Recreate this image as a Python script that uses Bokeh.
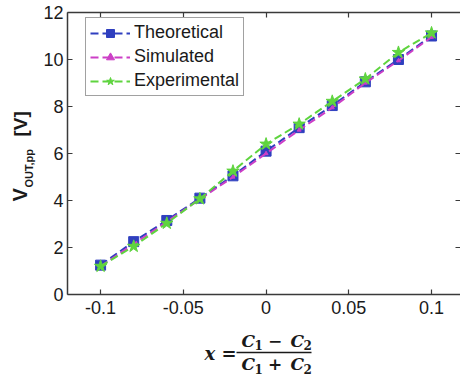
from bokeh.plotting import figure
from bokeh.models import Range1d, LinearAxis, FixedTicker, Label, Arrow, Legend, LegendItem
from bokeh.embed import file_html
from bokeh.resources import INLINE
import math

# ---- data ----
x_vals = [-0.1, -0.08, -0.06, -0.04, -0.02, 0.0, 0.02, 0.04, 0.06, 0.08, 0.1]
theoretical = [1.25, 2.25, 3.15, 4.1, 5.05, 6.1, 7.1, 8.04, 9.05, 10.0, 11.0]
simulated = [1.2, 2.15, 3.1, 4.05, 5.0, 6.0, 7.0, 7.95, 9.0, 9.95, 10.95]
experimental = [1.2, 2.05, 3.03, 4.07, 5.25, 6.4, 7.25, 8.22, 9.17, 10.3, 11.13]
x_ticks = [-0.1, -0.05, 0, 0.05, 0.1]
x_tick_labels = {-0.1: "-0.1", -0.05: "-0.05", 0: "0", 0.05: "0.05", 0.1: "0.1"}
y_ticks = [0, 2, 4, 6, 8, 10, 12]

# axes box limits (data)
X0, X1 = -0.12, 0.1175
Y0, Y1 = 0, 12

# axes box position on the canvas (pixels)
FL, FR, FT, FB = 67, 460, 12, 294
W, H = 460, 377

def dx(px):
    return X0 + (px - FL) * (X1 - X0) / (FR - FL)

def dy(py):
    return Y0 + (FB - py) * (Y1 - Y0) / (FB - FT)

p = figure(width=W, height=H, output_backend="svg", toolbar_location=None,
           x_range=Range1d(dx(0), dx(W)), y_range=Range1d(dy(H), dy(0)),
           min_border=0, x_axis_location=None, y_axis_location=None)
p.outline_line_color = None
p.grid.visible = False
p.background_fill_color = "white"
p.border_fill_color = "white"

axis_color = "#3a3a3a"
label_color = "#1a1a1a"
font = "Liberation Sans"

def make_axis(ticks, loc, bounds, overrides):
    ax = LinearAxis(ticker=FixedTicker(ticks=ticks), fixed_location=loc, bounds=bounds)
    ax.axis_line_color = axis_color
    ax.axis_line_width = 1.5
    ax.major_tick_line_color = axis_color
    ax.major_tick_line_width = 1.2
    ax.major_tick_in = 5
    ax.major_tick_out = 0
    ax.minor_tick_line_color = None
    ax.major_label_text_font = font
    ax.major_label_text_font_size = "18px"
    ax.major_label_text_color = label_color
    ax.major_label_overrides = overrides
    return ax

xb = make_axis(x_ticks, Y0, (X0, X1), x_tick_labels)
xb.major_label_standoff = 6
p.add_layout(xb, "below")
yl = make_axis(y_ticks, X0, (Y0, Y1), {t: str(t) for t in y_ticks})
yl.major_label_standoff = 4
p.add_layout(yl, "left")
xt = make_axis(x_ticks, Y1, (X0, X1), {t: "" for t in x_ticks})
xt.major_tick_in = 0
xt.major_tick_out = 5
p.add_layout(xt, "below")
yr = make_axis(y_ticks, X1, (Y0, Y1), {t: "" for t in y_ticks})
yr.axis_line_color = None
yr.major_tick_in = 0
yr.major_tick_out = 5
p.add_layout(yr, "left")

blue = "#2f3fbf"
magenta = "#cc3fc6"
green = "#5fd43f"

l1 = p.line(x_vals, theoretical, line_color=blue, line_width=2, line_dash="8 4")
m1 = p.scatter(x_vals, theoretical, marker="square", size=10, fill_color=blue, line_color=blue)
l2 = p.line(x_vals, simulated, line_color=magenta, line_width=2, line_dash="8 4")
m2 = p.scatter(x_vals, simulated, marker="triangle", size=4, fill_color=magenta, line_color=magenta)
l3 = p.line(x_vals, experimental, line_color=green, line_width=2, line_dash="8 4")
m3 = p.scatter(x_vals, experimental, marker="star", size=13, fill_color=green, line_color=green)

legend = Legend(items=[
    LegendItem(label="Theoretical", renderers=[l1, m1]),
    LegendItem(label="Simulated", renderers=[l2, m2]),
    LegendItem(label="Experimental", renderers=[l3, m3]),
])
legend.location = (85, H - 96)
legend.padding = 4
legend.spacing = 3
legend.glyph_width = 40
legend.glyph_height = 20
legend.label_height = 20
legend.label_standoff = 4
legend.label_text_font = font
legend.label_text_font_size = "18px"
legend.label_text_color = label_color
legend.border_line_color = "#444444"
legend.border_line_width = 1.2
legend.background_fill_alpha = 1
legend.margin = 0
p.add_layout(legend, "center")

# ---- y axis label: V_OUT,pp [V] ----
ylab_font = "Liberation Sans"

def ytxt(px, py, s, size):
    p.add_layout(Label(x=dx(px), y=dy(py), text=s, angle=math.pi / 2,
                       text_font=ylab_font, text_font_style="bold", text_font_size=size,
                       text_color=label_color, text_align="left", text_baseline="middle"))

ytxt(19.5, 201, "V", "20px")
ytxt(28.5, 187, "OUT,pp", "11px")
ytxt(20, 136, "[V]", "19px")

# ---- x axis label: x = (C1 - C2)/(C1 + C2) ----
serif = "DejaVu Serif"

def txt(px, py, s, size, align="left", style="bold italic"):
    p.add_layout(Label(x=dx(px), y=dy(py), text=s,
                       text_font=serif, text_font_style=style, text_font_size=size,
                       text_color=label_color, text_align=align, text_baseline="middle"))

txt(204, 353, "x =", "18px")
# numerator
txt(241, 340, "C", "17px")
txt(254, 344.5, "1", "12px", style="bold")
txt(274.5, 340, "\u2212", "17px", align="center", style="bold")
txt(290, 340, "C", "17px")
txt(303, 344.5, "2", "12px", style="bold")
# denominator
txt(241, 363.5, "C", "17px")
txt(254, 368, "1", "12px", style="bold")
txt(274.5, 363.5, "+", "17px", align="center", style="bold")
txt(290, 363.5, "C", "17px")
txt(303, 368, "2", "12px", style="bold")
p.add_layout(Arrow(x_start=dx(236), y_start=dy(352), x_end=dx(311), y_end=dy(352),
                   start=None, end=None, line_color=label_color, line_width=1.5))

open("out.html", "w").write(file_html(p, INLINE))
